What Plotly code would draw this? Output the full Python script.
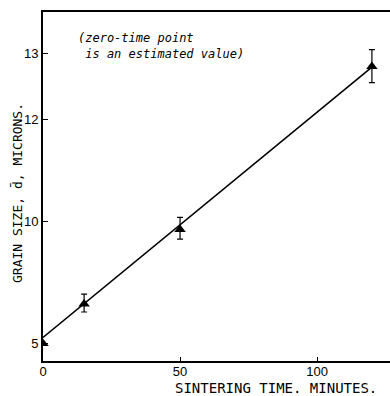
import plotly.graph_objects as go

# Data (sintering time in minutes, grain size d in microns)
time_min = [0, 15, 50, 120]
grain_d = [5.0, 7.41, 9.80, 12.82]
grain_d_upper = [5.0, 7.82, 10.09, 13.06]
grain_d_lower = [5.0, 7.05, 9.55, 12.58]

# fitted straight line (linear in d^3)
fit_t = [0, 120]
fit_d = [5.52, 12.81]

ytick_vals_d = [5, 10, 12, 13]
ytick_text = ["5", "10", "12", "13"]
xtick_vals = [0, 50, 100]

cube = lambda v: [x ** 3 for x in v]

y_pts = cube(grain_d)
err_plus = [u - p for u, p in zip(cube(grain_d_upper), y_pts)]
err_minus = [p - l for l, p in zip(cube(grain_d_lower), y_pts)]

fig = go.Figure()
fig.add_trace(go.Scatter(
    x=fit_t, y=cube(fit_d), mode="lines",
    line=dict(color="black", width=1.6), hoverinfo="skip", showlegend=False))
fig.add_trace(go.Scatter(
    x=time_min, y=y_pts, mode="markers",
    marker=dict(symbol="triangle-up", size=10, color="black"),
    error_y=dict(type="data", array=err_plus, arrayminus=err_minus,
                 color="black", thickness=1.2, width=3),
    showlegend=False))

font_family = "Liberation Sans, Arial, sans-serif"
title_family = "DejaVu Sans Mono, monospace"
note_family = "DejaVu Sans Mono, monospace"

fig.update_layout(
    width=390, height=396,
    margin=dict(l=43, r=0, t=12, b=35),
    paper_bgcolor="white", plot_bgcolor="white",
    font=dict(family=font_family, color="black", size=13),
    xaxis=dict(range=[0, 126.6], tickvals=xtick_vals, ticks="inside", ticklen=4,
               tickwidth=1, tickcolor="black", showgrid=False, zeroline=False,
               showline=True, linecolor="black", linewidth=2, mirror=True,
               tickfont=dict(size=13), ticklabelstandoff=-3),
    yaxis=dict(range=[0, 2496], tickvals=cube(ytick_vals_d), ticktext=ytick_text,
               ticks="inside", ticklen=5, tickwidth=1, tickcolor="black",
               showgrid=False, zeroline=False, showline=True, linecolor="black",
               linewidth=2, tickfont=dict(size=13)),
    annotations=[
        dict(text="SINTERING TIME. MINUTES.", xref="paper", yref="paper",
             x=(276 - 43) / 347, y=-(388 - 361) / 349, showarrow=False,
             xanchor="center", yanchor="middle",
             font=dict(size=14, family=title_family)),
        dict(text="GRAIN SIZE, d\u0304, MICRONS.", xref="paper", yref="paper",
             x=-(43 - 17) / 347, y=(361 - 193) / 349, showarrow=False, textangle=-90,
             xanchor="center", yanchor="middle",
             font=dict(size=13, family=title_family)),
        dict(text="<i>(zero-time point<br> is an estimated value)</i>",
             xref="paper", yref="paper", align="left",
             x=(76 - 43) / 347, y=(361 - 46) / 349, showarrow=False,
             xanchor="left", yanchor="middle",
             font=dict(size=12, family=note_family)),
    ],
)

fig.write_html("out.html")
